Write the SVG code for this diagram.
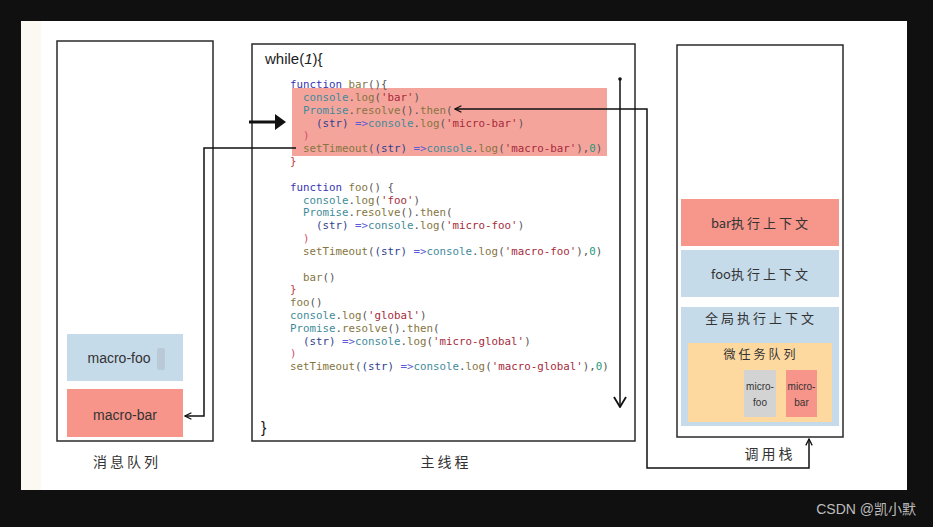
<svg xmlns="http://www.w3.org/2000/svg" width="933" height="527" viewBox="0 0 933 527">
<defs>
<style>
.box{fill:none;stroke:#2a2a2a;stroke-width:1.5}
.lbl{font-family:"Liberation Sans","Noto Sans CJK SC",sans-serif;font-size:14px;fill:#333;text-anchor:middle}
.cjk{font-family:"Noto Sans CJK SC","Liberation Sans",sans-serif;font-size:13px;fill:#333;text-anchor:middle;letter-spacing:3px}
.lat{letter-spacing:0px}
.code{font-family:"DejaVu Sans Mono",monospace;font-size:10.8px;fill:#555;white-space:pre}
.kw{fill:#3535b5}.fn{fill:#857540}.ob{fill:#3f8b9a}.st{fill:#a52a3a}.pa{fill:#2f3f8f}.ar{fill:#5a5ad6}.rp{fill:#d0506a}.br{fill:#c0393b}.nu{fill:#1d9a7a}
.con{fill:none;stroke:#111;stroke-width:1.5}
</style>
<marker id="open" viewBox="0 0 10 10" refX="9" refY="5" markerWidth="8" markerHeight="8" orient="auto-start-reverse" markerUnits="userSpaceOnUse">
<path d="M1,1 L9,5 L1,9" fill="none" stroke="#111" stroke-width="1.6"/>
</marker>
<marker id="big" viewBox="0 0 12 14" refX="11" refY="7" markerWidth="12" markerHeight="14" orient="auto" markerUnits="userSpaceOnUse">
<path d="M1,1 L11,7 L1,13" fill="none" stroke="#111" stroke-width="1.8"/>
</marker>
</defs>
<rect x="0" y="0" width="933" height="527" fill="#101010"/>
<rect x="21" y="21" width="886" height="469" fill="#ffffff"/>
<rect x="21" y="21" width="20" height="469" fill="#fbf9f2"/>

<g id="queue">
<rect class="box" x="57" y="41" width="156" height="400"/>
<text class="cjk" x="127" y="467" style="font-size:14px">消息队列</text>
</g>
<g id="macro-foo">
<rect x="67" y="334" width="116" height="47" fill="#c6dbea"/>
<rect x="157" y="348" width="8" height="22" rx="2" fill="#b9c9d6"/>
<text class="lbl" x="119" y="363">macro-foo</text>
</g>
<g id="macro-bar">
<rect x="67" y="389" width="116" height="48" fill="#f7958a"/>
<text class="lbl" x="125" y="420">macro-bar</text>
</g>

<g id="main-thread">
<rect class="box" x="252" y="44" width="383" height="397"/>
<text x="265" y="64" style="font-family:'Liberation Sans',sans-serif;font-size:15px;fill:#222">while(<tspan font-style="italic">1</tspan>){</text>
<text x="261" y="433" style="font-family:'Liberation Sans',sans-serif;font-size:16px;fill:#222">}</text>
<text class="cjk" x="446" y="467" style="font-size:14px">主线程</text>
<rect x="292" y="88" width="315" height="68" fill="#f5a49c"/>
<g class="code">
<text x="290" y="88"><tspan class="kw">function</tspan> <tspan class="fn">bar</tspan>(){</text>
<text x="303" y="100.8"><tspan class="ob">console</tspan>.<tspan class="fn">log</tspan>(<tspan class="st">'bar'</tspan>)</text>
<text x="303" y="113.7"><tspan class="ob">Promise</tspan>.<tspan class="fn">resolve</tspan>().<tspan class="fn">then</tspan>(</text>
<text x="316" y="126.5"><tspan class="pa">(str)</tspan> <tspan class="ar">=&gt;</tspan><tspan class="ob">console</tspan>.<tspan class="fn">log</tspan>(<tspan class="st">'micro-bar'</tspan>)</text>
<text x="303" y="139.3" class="rp">)</text>
<text x="303" y="152.2"><tspan class="fn">setTimeout</tspan>(<tspan class="pa">(str)</tspan> <tspan class="ar">=&gt;</tspan><tspan class="ob">console</tspan>.<tspan class="fn">log</tspan>(<tspan class="st">'macro-bar'</tspan>),<tspan class="nu">0</tspan>)</text>
<text x="290" y="165" class="br">}</text>
<text x="290" y="190.6"><tspan class="kw">function</tspan> <tspan class="fn">foo</tspan>() {</text>
<text x="303" y="203.5"><tspan class="ob">console</tspan>.<tspan class="fn">log</tspan>(<tspan class="st">'foo'</tspan>)</text>
<text x="303" y="216.3"><tspan class="ob">Promise</tspan>.<tspan class="fn">resolve</tspan>().<tspan class="fn">then</tspan>(</text>
<text x="316" y="229.1"><tspan class="pa">(str)</tspan> <tspan class="ar">=&gt;</tspan><tspan class="ob">console</tspan>.<tspan class="fn">log</tspan>(<tspan class="st">'micro-foo'</tspan>)</text>
<text x="303" y="242" class="rp">)</text>
<text x="303" y="254.8"><tspan class="fn">setTimeout</tspan>(<tspan class="pa">(str)</tspan> <tspan class="ar">=&gt;</tspan><tspan class="ob">console</tspan>.<tspan class="fn">log</tspan>(<tspan class="st">'macro-foo'</tspan>),<tspan class="nu">0</tspan>)</text>
<text x="303" y="280.5"><tspan class="fn">bar</tspan>()</text>
<text x="290" y="293.3" class="br">}</text>
<text x="290" y="306.1"><tspan class="fn">foo</tspan>()</text>
<text x="290" y="319"><tspan class="ob">console</tspan>.<tspan class="fn">log</tspan>(<tspan class="st">'global'</tspan>)</text>
<text x="290" y="331.8"><tspan class="ob">Promise</tspan>.<tspan class="fn">resolve</tspan>().<tspan class="fn">then</tspan>(</text>
<text x="303" y="344.6"><tspan class="pa">(str)</tspan> <tspan class="ar">=&gt;</tspan><tspan class="ob">console</tspan>.<tspan class="fn">log</tspan>(<tspan class="st">'micro-global'</tspan>)</text>
<text x="290" y="357.4" class="rp">)</text>
<text x="290" y="370.3"><tspan class="fn">setTimeout</tspan>(<tspan class="pa">(str)</tspan> <tspan class="ar">=&gt;</tspan><tspan class="ob">console</tspan>.<tspan class="fn">log</tspan>(<tspan class="st">'macro-global'</tspan>),<tspan class="nu">0</tspan>)</text>
</g>
</g>

<g id="call-stack">
<rect class="box" x="677" y="45" width="166" height="392"/>
<text class="cjk" x="770" y="459" style="font-size:14px">调用栈</text>
</g>
<g id="bar-context">
<rect x="681" y="199" width="158" height="47" fill="#f7978c"/>
<text class="cjk" x="761" y="228"><tspan class="lat">bar</tspan>执行上下文</text>
</g>
<g id="foo-context">
<rect x="681" y="250" width="158" height="47" fill="#c6dbea"/>
<text class="cjk" x="761" y="279"><tspan class="lat">foo</tspan>执行上下文</text>
</g>
<g id="global-context">
<rect x="681" y="307" width="158" height="119" fill="#c6dbea"/>
<text class="cjk" x="761" y="323">全局执行上下文</text>
</g>
<g id="micro-queue">
<rect x="688" y="343" width="144" height="79" fill="#fdd9a0"/>
<text class="cjk" x="761" y="359" style="font-size:12px">微任务队列</text>
</g>
<g id="micro-foo">
<rect x="744" y="370" width="32" height="47" fill="#d3d3d3"/>
<text class="lbl" x="760" y="390" style="font-size:10px">micro-</text>
<text class="lbl" x="760" y="406" style="font-size:10px">foo</text>
</g>
<g id="micro-bar">
<rect x="786" y="370" width="31" height="47" fill="#f7958a"/>
<text class="lbl" x="801.5" y="390" style="font-size:10px">micro-</text>
<text class="lbl" x="801.5" y="406" style="font-size:10px">bar</text>
</g>

<g id="connectors">
<line x1="249" y1="122" x2="276" y2="122" stroke="#111" stroke-width="3"/>
<polygon points="275,114 286,122 275,130" fill="#111"/>
<path class="con" d="M296,148 H204 V416 H185" marker-end="url(#open)"/>
<path class="con" d="M455,109 H647 V468 H809 V439" marker-start="url(#open)" marker-end="url(#open)"/>
<circle cx="620" cy="79" r="1.8" fill="#111"/>
<path class="con" d="M620,79 V407" marker-end="url(#big)"/>
</g>

<text x="916" y="514" style="font-family:'Liberation Sans','Noto Sans CJK SC',sans-serif;font-size:14px;fill:#bdbdbd;text-anchor:end">CSDN @凯小默</text>
</svg>
